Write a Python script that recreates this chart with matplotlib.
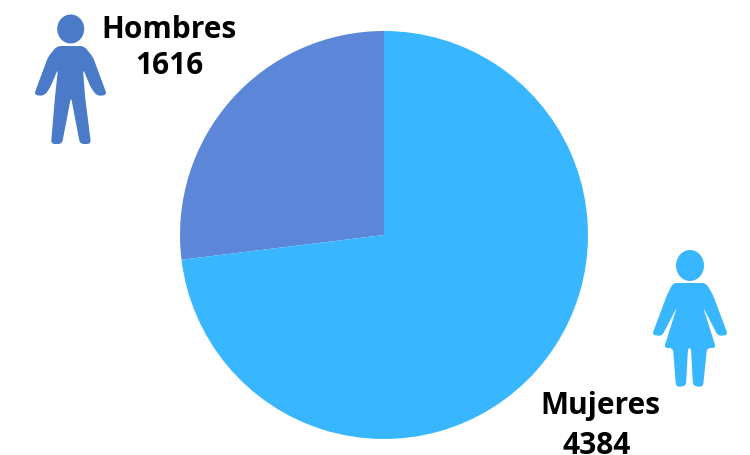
import matplotlib
matplotlib.use('Agg')
import matplotlib.pyplot as plt
from matplotlib.patches import PathPatch, Ellipse
from matplotlib.path import Path

plt.rcParams['font.family'] = ['Open Sans', 'DejaVu Sans']

labels = ['Hombres', 'Mujeres']
values = [1616, 4384]
colors = ['#5C87D8', '#38B6FF']

# icon outlines, in pixels of the picture
man_body = [(57, 46), (84, 46), (93, 57), (107, 95), (97, 96), (91, 88), (83, 69), (85, 96),
            (91, 144), (80, 144), (71, 97), (62, 144), (51, 144), (55, 97), (58, 69),
            (50, 88), (44, 96), (34, 95), (48, 57)]
woman_body = [(673, 283), (706, 283), (713, 295), (728, 335), (718, 336), (703, 307), (716, 348),
              (707, 348), (703, 387), (693, 386), (691, 348), (688, 348), (686, 386), (676, 387),
              (673, 348), (664, 348), (677, 307), (662, 336), (652, 335), (667, 295)]


def rounded_path(points, r=4.0):
    """Closed outline with every corner cut by a small curve"""
    verts, codes = [], []
    n = len(points)
    for i, (x, y) in enumerate(points):
        px, py = points[i - 1]
        nx, ny = points[(i + 1) % n]
        d1 = ((x - px) ** 2 + (y - py) ** 2) ** 0.5
        d2 = ((nx - x) ** 2 + (ny - y) ** 2) ** 0.5
        r1 = min(r, d1 / 2)
        r2 = min(r, d2 / 2)
        start = (x + (px - x) * r1 / d1, y + (py - y) * r1 / d1)
        end = (x + (nx - x) * r2 / d2, y + (ny - y) * r2 / d2)
        verts.append(start)
        codes.append(Path.MOVETO if i == 0 else Path.LINETO)
        verts += [(x, y), end]
        codes += [Path.CURVE3, Path.CURVE3]
    verts.append(verts[0])
    codes.append(Path.CLOSEPOLY)
    return Path(verts, codes)


fig = plt.figure(figsize=(7.5, 4.55), dpi=100, facecolor='white')

ax = fig.add_axes([(384 - 204) / 750, (455 - 235 - 204) / 455, 408 / 750, 408 / 455])
ax.pie(values, colors=colors, startangle=90, counterclock=True, radius=1.0)
ax.set_xlim(-1, 1)
ax.set_ylim(-1, 1)

over = fig.add_axes([0, 0, 1, 1])
over.set_xlim(0, 750)
over.set_ylim(455, 0)
over.axis('off')
over.patch.set_alpha(0)

over.add_patch(PathPatch(rounded_path(man_body), fc='#4A7AC8', ec='none'))
over.add_patch(Ellipse((70.7, 29), 27, 29, fc='#4A7AC8', ec='none'))
over.add_patch(PathPatch(rounded_path(woman_body), fc='#38B6FF', ec='none'))
over.add_patch(Ellipse((690, 265.5), 28, 31, fc='#38B6FF', ec='none'))

txt = dict(fontsize=21.5, fontweight='bold', color='#000000', ha='center', va='baseline')
over.text(169.5, 38.5, labels[0], **txt)
over.text(169, 74, str(values[0]), **txt)
over.text(600, 414, labels[1], **txt)
over.text(596.5, 454.5, str(values[1]), **txt)

fig.savefig('out.png', dpi=100)
